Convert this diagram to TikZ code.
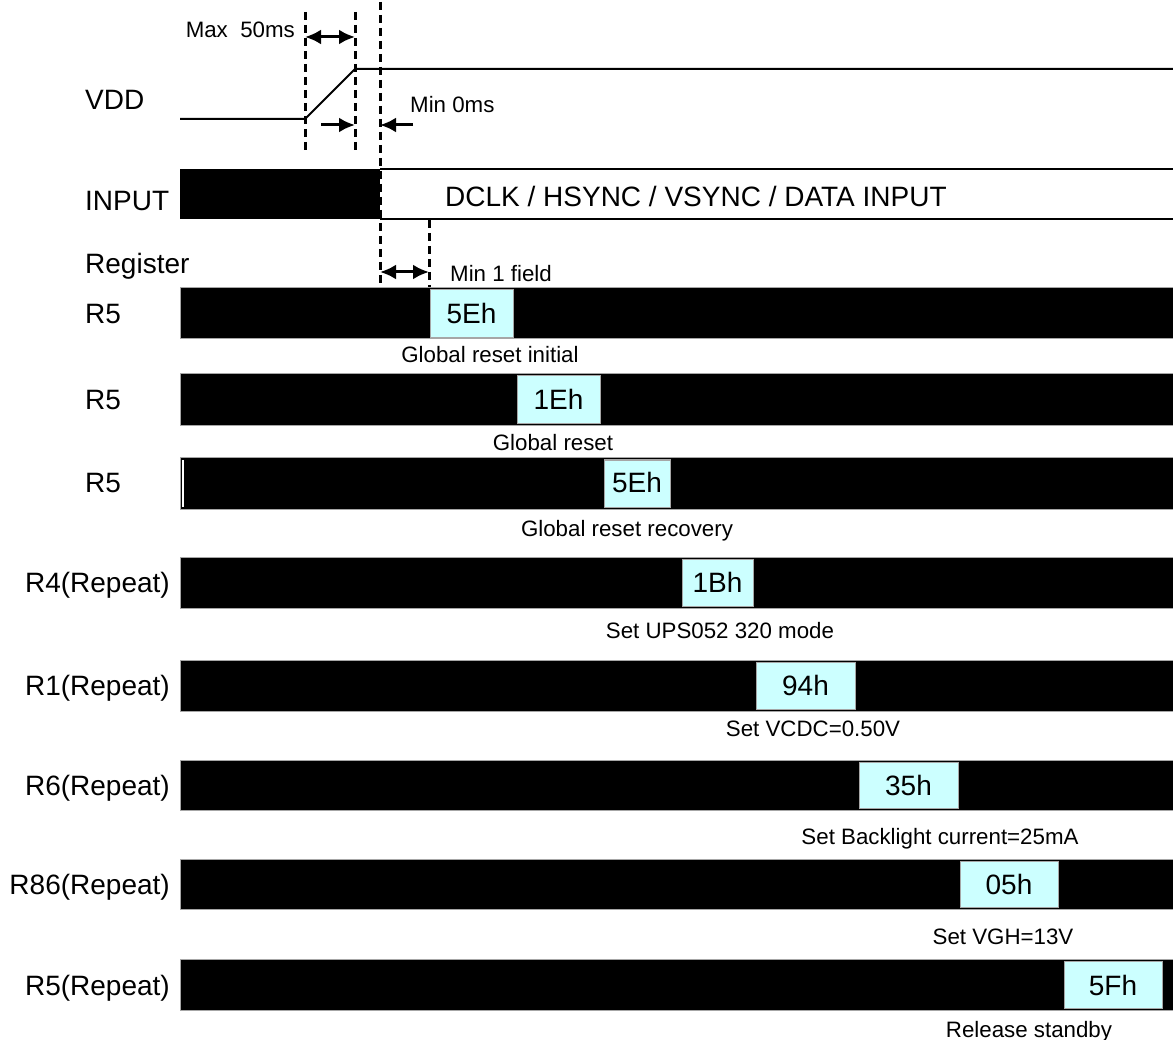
\documentclass[tikz,border=0pt]{standalone}
\usepackage{fontspec}
\setmainfont{Liberation Sans}
\usetikzlibrary{arrows.meta}
\definecolor{regcyan}{RGB}{204,255,255}
\begin{document}
\begin{tikzpicture}[x=1pt,y=-1pt,
  big/.style={font=\fontsize{28}{30}\selectfont, inner sep=0pt},
  small/.style={font=\fontsize{22.3}{24}\selectfont, inner sep=0pt},
  sigline/.style={line width=2pt},
  guide/.style={line width=3pt, dash pattern=on 8pt off 5pt},
  dimarrow/.style={line width=3pt, {Latex[length=16pt,width=15pt]}-{Latex[length=16pt,width=15pt]}},
  onearrow/.style={line width=3pt, -{Latex[length=16pt,width=15pt]}},
  regbar/.style={fill=black, draw=gray!70, line width=1pt},
  regbox/.style={fill=regcyan, draw=gray!70, line width=1pt}]
\useasboundingbox (0,0) rectangle (1173,1040);

% ---------- VDD ----------
\node[big, anchor=base west] (vdd) at (85,110) {VDD};
\draw[sigline] (180,119) coordinate (vlo) -- (305,119) coordinate (rs) -- (355,69) coordinate (re) -- (1173,69) coordinate (vhi);

% guides
\coordinate (g1t) at (305,12);  \coordinate (g1b) at (305,150);
\coordinate (g2t) at (355,12);  \coordinate (g2b) at (355,150);
\coordinate (g3t) at (380,2);   \coordinate (g3b) at (380,288);
\coordinate (g4t) at (429,220); \coordinate (g4b) at (429,288);
\draw[guide] (g1t) -- (g1b);
\draw[guide] (g2t) -- (g2b);
\draw[guide] (g3t) -- (g3b);
\draw[guide] (g4t) -- (g4b);

% Max 50ms
\coordinate (m50a) at (305,37); \coordinate (m50b) at (355,37);
\draw[dimarrow] (m50a) -- (m50b);
\node[small, anchor=base east] (max50) at (295,38) {Max\ \ 50ms};

% Min 0ms
\coordinate (m0a) at (321,125); \coordinate (m0b) at (355,125);
\coordinate (m0c) at (413,125); \coordinate (m0d) at (380,125);
\draw[onearrow] (m0a) -- (m0b);
\draw[onearrow] (m0c) -- (m0d);
\node[small, anchor=base west] (min0) at (410,113) {Min 0ms};

% ---------- INPUT ----------
\node[big, anchor=base west] (inputlbl) at (85,211) {INPUT};
\fill[black] (180,169) rectangle (380,219);
\draw[line width=1.5pt] (380,169) -- (1173,169);
\draw[line width=1.5pt] (380,219) -- (1173,219);
\node[big, anchor=base west] (inputtxt) at (445,207) {DCLK / HSYNC / VSYNC / DATA INPUT};

% ---------- Register ----------
\node[big, anchor=base west] (reglbl) at (85,274) {Register};
\coordinate (m1a) at (380,272); \coordinate (m1b) at (429,272);
\draw[dimarrow] (m1a) -- (m1b);
\node[small, anchor=base west] (min1) at (450,282) {Min 1 field};

% ---------- register rows ----------
% row 1
\draw[regbar] (180,288) rectangle (1175,339);
\draw[regbox] (430,290) rectangle (513,338);
\node[big, anchor=base] (v1) at (471.5,324) {5Eh};
\node[big, anchor=base west] (l1) at (85,324) {R5};
\node[small, anchor=base] (d1) at (490,363) {Global reset initial};
% row 2
\draw[regbar] (180,374) rectangle (1175,426);
\draw[regbox] (517,376) rectangle (600,424);
\node[big, anchor=base] (v2) at (558.5,410) {1Eh};
\node[big, anchor=base west] (l2) at (85,410) {R5};
\node[small, anchor=base] (d2) at (553,450) {Global reset};
% row 3
\draw[regbar] (180,458) rectangle (1175,509);
\draw[white, line width=2pt] (183,460) -- (183,507);
\draw[regbox] (604,460) rectangle (670,507);
\node[big, anchor=base] (v3) at (637,493) {5Eh};
\node[big, anchor=base west] (l3) at (85,493) {R5};
\node[small, anchor=base] (d3) at (627,536) {Global reset recovery};
% row 4
\draw[regbar] (180,557) rectangle (1175,608);
\draw[regbox] (682,559) rectangle (753,606);
\node[big, anchor=base] (v4) at (717.5,592) {1Bh};
\node[big, anchor=base east] (l4) at (170,592) {R4(Repeat)};
\node[small, anchor=base] (d4) at (720,638) {Set UPS052 320 mode};
% row 5
\draw[regbar] (180,660) rectangle (1175,711);
\draw[regbox] (756,662) rectangle (855,709);
\node[big, anchor=base] (v5) at (805.5,695) {94h};
\node[big, anchor=base east] (l5) at (170,695) {R1(Repeat)};
\node[small, anchor=base] (d5) at (813,736) {Set VCDC=0.50V};
% row 6
\draw[regbar] (180,760) rectangle (1175,810);
\draw[regbox] (859,762) rectangle (958,808);
\node[big, anchor=base] (v6) at (908.5,795) {35h};
\node[big, anchor=base east] (l6) at (170,795) {R6(Repeat)};
\node[small, anchor=base] (d6) at (940,844) {Set Backlight current=25mA};
% row 7
\draw[regbar] (180,859) rectangle (1175,909);
\draw[regbox] (960,861) rectangle (1058,907);
\node[big, anchor=base] (v7) at (1009,894) {05h};
\node[big, anchor=base east] (l7) at (170,894) {R86(Repeat)};
\node[small, anchor=base] (d7) at (1003,944) {Set VGH=13V};
% row 8
\draw[regbar] (180,959) rectangle (1175,1010);
\draw[regbox] (1064,961) rectangle (1162,1008);
\node[big, anchor=base] (v8) at (1113,995) {5Fh};
\node[big, anchor=base east] (l8) at (170,995) {R5(Repeat)};
\node[small, anchor=base] (d8) at (1029,1037) {Release standby};
\end{tikzpicture}
\end{document}
